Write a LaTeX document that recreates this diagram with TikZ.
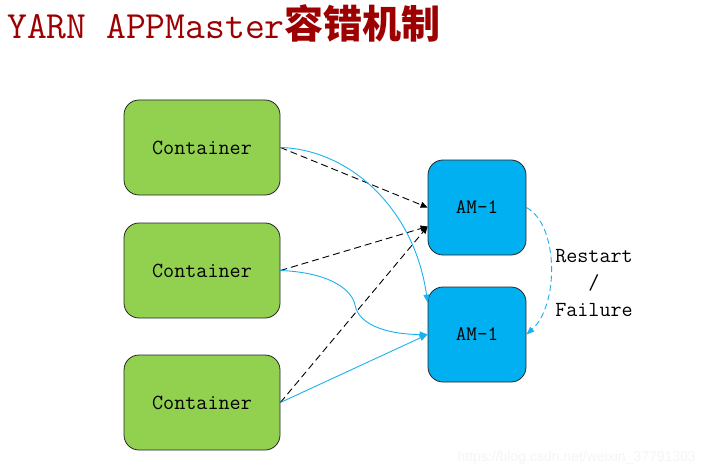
\documentclass[tikz,border=0pt]{standalone}
\usepackage{fontspec}
\setmainfont{Latin Modern Mono}
\newfontfamily\cjk{Noto Sans CJK SC}
\newfontfamily\wm{Liberation Sans}
\usetikzlibrary{arrows.meta}
\definecolor{cgreen}{HTML}{92D050}
\definecolor{cblue}{HTML}{00B0F0}
\definecolor{lblue}{HTML}{1AB2EE}
\definecolor{tred}{HTML}{9C0000}
\begin{document}
\begin{tikzpicture}[x=1pt,y=-1pt,
  cont/.style={draw=black!85, line width=0.8pt, fill=cgreen, rounded corners=15pt,
    minimum width=156pt, minimum height=95pt, inner sep=0pt,
    font=\fontsize{21.5}{21.5}\selectfont},
  amnode/.style={draw=black!85, line width=0.8pt, fill=cblue, rounded corners=15pt,
    minimum width=98pt, minimum height=95pt, inner sep=0pt,
    font=\fontsize{20.5}{20.5}\selectfont},
  dasharrow/.style={draw=black, line width=0.9pt, dash pattern=on 7pt off 4pt,
    -{Triangle[length=7pt,width=6pt]}},
  bluearrow/.style={draw=lblue, line width=0.9pt, -{Triangle[length=8pt,width=6pt]}},
  bluedash/.style={draw=lblue, line width=0.9pt, dash pattern=on 6pt off 3.5pt,
    -{Triangle[length=8pt,width=6pt]}}]
\useasboundingbox (0,0) rectangle (704,476);
\fill[white] (0,0) rectangle (704,476);

\node[anchor=west, inner sep=0pt, text=tred] (title) at (7,23)
  {{\fontsize{38.5}{38.5}\selectfont YARN APPMaster}{\cjk\bfseries\fontsize{39}{39}\selectfont 容错机制}};

\node[cont] (c1) at (202,147.5) {Container};
\node[cont] (c2) at (202,270.5) {Container};
\node[cont] (c3) at (202,402.5) {Container};
\node[amnode] (am1) at (477,207.5) {AM-1};
\node[amnode] (am2) at (477,334.5) {AM-1};

\coordinate (t1) at ([yshift=-19pt]am1.west);
\coordinate (t2) at ([yshift=-16pt]am2.north west);

% dashed black arrows
\draw[dasharrow] (c1.east) -- (am1.west);
\draw[dasharrow] (c2.east) -- (t1);
\draw[dasharrow] (c3.east) -- (t1);

% blue arrows
\draw[bluearrow] (c1.east) .. controls +(70,2) and +(-13,-93) .. (t2);
\draw[bluearrow] (c2.east) .. controls +(50,2) and +(-3,-15) .. (355,305)
  .. controls +(4,22) and +(-35,0) .. (am2.west);
\draw[bluearrow] (c3.east) -- (am2.west);

% restart/failure
\draw[bluedash] (am1.east) .. controls (559,225) and (559,305) .. (am2.east);
\node[align=center, inner sep=0pt, font=\fontsize{21.5}{27}\selectfont] (lbl) at (594,283)
  {Restart\\/\\Failure};

\node[anchor=east, inner sep=0pt, text=black!4, font=\wm\fontsize{14}{14}\selectfont] (wmk) at (696,458)
  {https://blog.csdn.net/weixin\_37791303};
\end{tikzpicture}
\end{document}
